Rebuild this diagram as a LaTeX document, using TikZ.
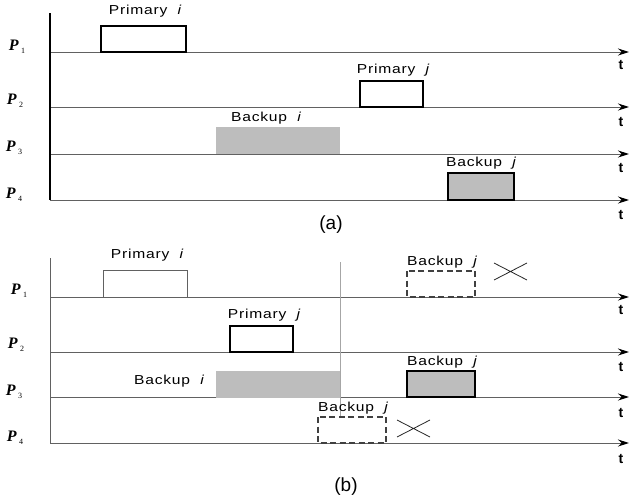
\documentclass[tikz,border=0pt]{standalone}
\usepackage{fontspec}
\setsansfont{Liberation Sans}
\newfontfamily\tasklabel[FakeStretch=1.2,LetterSpace=6]{Liberation Sans}
\newfontfamily\procfont{Liberation Serif}
\usetikzlibrary{arrows.meta}
\definecolor{taskgray}{gray}{0.74}
\definecolor{axisgray}{gray}{0.38}
\newcommand{\proc}[1]{{\procfont\itshape\bfseries P}\,\raisebox{-3pt}{\fontsize{8}{9}\selectfont\procfont #1}}

\begin{document}
\begin{tikzpicture}[x=1pt,y=-1pt,
	timeline/.style={draw=axisgray,line width=1pt,-{Stealth[length=11pt,width=7pt,color=black]}},
	tlabel/.style={font=\fontsize{14}{15}\selectfont\sffamily\bfseries},
	plabel/.style={font=\fontsize{16}{18}\selectfont},
	boxlabel/.style={font=\fontsize{13}{14}\selectfont\tasklabel},
	partlabel/.style={font=\fontsize{19}{21}\selectfont\sffamily},
	taskbox/.style={draw=black,line width=1.2pt,fill=white},
	thinbox/.style={draw=axisgray,line width=0.7pt,fill=white},
	backupfill/.style={fill=taskgray},
	backupbox/.style={draw=black,line width=1.2pt,fill=taskgray},
	lostbox/.style={draw=black!75,line width=1.2pt,dash pattern=on 6pt off 3.5pt,fill=white},
	crossmark/.style={draw=black!85,line width=0.8pt}]
	\useasboundingbox (0,0) rectangle (629,501);
	% (a)
	\coordinate (aTop) at (50,13);
	\coordinate (aA) at (50,52);   \coordinate (aAt) at (629,52);
	\coordinate (aB) at (50,107);  \coordinate (aBt) at (629,107);
	\coordinate (aC) at (50,154);  \coordinate (aCt) at (629,154);
	\coordinate (aD) at (50,200);  \coordinate (aDt) at (629,200);
	\draw[timeline] (aA) -- (aAt);
	\draw[timeline] (aB) -- (aBt);
	\draw[timeline] (aC) -- (aCt);
	\draw[timeline] (aD) -- (aDt);
	\draw[line width=1.6pt] (aTop) -- (aD);
	\node[plabel] (aP1) at (17,47) {\proc{1}};
	\node[plabel] (aP2) at (15,101) {\proc{2}};
	\node[plabel] (aP3) at (14,148) {\proc{3}};
	\node[plabel] (aP4) at (14,195) {\proc{4}};
	\node[tlabel] (aT1) at (621,65) {t};
	\node[tlabel] (aT2) at (621,122) {t};
	\node[tlabel] (aT3) at (621,168) {t};
	\node[tlabel] (aT4) at (621,215) {t};
	\draw[taskbox] (101,26) rectangle (186,52);
	\node[boxlabel] (aPi) at (145,11) {Primary~~{\itshape i}};
	\draw[taskbox] (360,81) rectangle (423,107);
	\node[boxlabel] (aPj) at (393,70) {Primary~~{\itshape j}};
	\fill[backupfill] (216,127) rectangle (340,153.5);
	\node[boxlabel] (aBi) at (266,118) {Backup~~{\itshape i}};
	\draw[backupbox] (448,173) rectangle (514,200);
	\node[boxlabel] (aBj) at (481,163) {Backup~~{\itshape j}};
	\node[partlabel] (aCap) at (331,225) {(a)};
	% (b)
	\coordinate (bTop) at (50,258);
	\coordinate (bA) at (50,297);  \coordinate (bAt) at (629,297);
	\coordinate (bB) at (50,352);  \coordinate (bBt) at (629,352);
	\coordinate (bC) at (50,397);  \coordinate (bCt) at (629,397);
	\coordinate (bD) at (50,443);  \coordinate (bDt) at (629,443);
	\coordinate (fTop) at (340,262); \coordinate (fBot) at (340,443);
	\draw[timeline] (bA) -- (bAt);
	\draw[timeline] (bB) -- (bBt);
	\draw[timeline] (bC) -- (bCt);
	\draw[timeline] (bD) -- (bDt);
	\draw[draw=axisgray,line width=0.9pt] (bTop) -- (bD);
	\draw[draw=gray!70,line width=0.8pt] (fTop) -- (fBot);
	\node[plabel] (bP1) at (19,291) {\proc{1}};
	\node[plabel] (bP2) at (16,345) {\proc{2}};
	\node[plabel] (bP3) at (14,392) {\proc{3}};
	\node[plabel] (bP4) at (15,438) {\proc{4}};
	\node[tlabel] (bT1) at (621,310) {t};
	\node[tlabel] (bT2) at (621,367) {t};
	\node[tlabel] (bT3) at (621,413) {t};
	\node[tlabel] (bT4) at (621,459) {t};
	\draw[thinbox] (103,270) rectangle (187,297);
	\node[boxlabel] (bPi) at (147,255) {Primary~~{\itshape i}};
	\draw[taskbox] (230,326) rectangle (293,352);
	\node[boxlabel] (bPj) at (264,315) {Primary~~{\itshape j}};
	\fill[backupfill] (216,371) rectangle (340,397.5);
	\node[boxlabel] (bBi) at (169,381) {Backup~~{\itshape i}};
	\draw[lostbox] (407,271) rectangle (475,297);
	\node[boxlabel] (bBj1) at (442,262) {Backup~~{\itshape j}};
	\draw[crossmark] (494,263) -- (527,280) (494,280) -- (527,263);
	\draw[backupbox] (407,371) rectangle (475,397);
	\node[boxlabel] (bBj3) at (442,362) {Backup~~{\itshape j}};
	\draw[lostbox] (318,417) rectangle (386,443);
	\node[boxlabel] (bBj4) at (353,408) {Backup~~{\itshape j}};
	\draw[crossmark] (397,420) -- (430,437) (397,437) -- (430,420);
	\node[partlabel] (bCap) at (346,487) {(b)};
\end{tikzpicture}
\end{document}
